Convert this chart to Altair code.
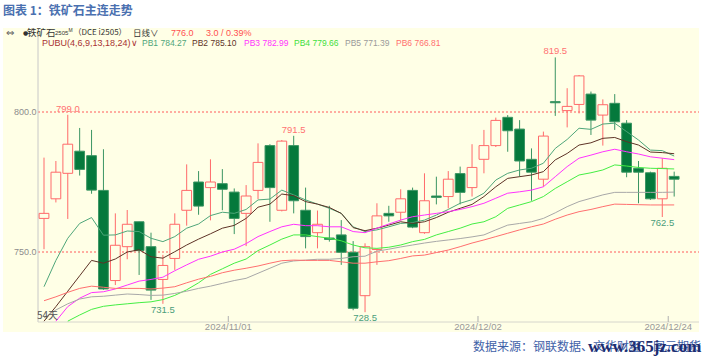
import altair as alt
import pandas as pd

# ---------------- data ----------------
opens = [762.0, 769.0, 778.1, 786.0, 784.4, 772.0, 739.8, 751.9, 760.8, 751.9,
         740.2, 747.7, 764.9, 775.0, 773.0, 774.4, 771.4, 763.8, 772.0, 788.0,
         764.9, 788.0, 764.9, 756.9, 755.0, 756.1, 749.9, 734.4, 750.9, 763.8,
         764.2, 772.0, 756.9, 770.0, 769.8, 778.0, 773.0, 783.1, 788.0, 798.1,
         793.9, 783.1, 776.0, 803.7, 800.5, 802.7, 806.4, 798.9, 803.1, 796.0,
         779.9, 778.3, 769.0, 777.0]
highs = [783.7, 782.5, 799.0, 794.3, 793.6, 786.7, 763.8, 765.0, 760.8, 756.9,
         749.0, 763.8, 781.3, 778.9, 783.1, 779.6, 772.7, 773.9, 788.8, 788.5,
         790.0, 791.5, 773.0, 764.8, 766.5, 761.4, 753.9, 753.1, 767.4, 766.5,
         772.4, 773.0, 778.1, 776.9, 778.9, 780.5, 788.5, 793.6, 798.0, 798.9,
         797.1, 787.0, 793.0, 819.5, 808.5, 813.2, 807.3, 804.5, 806.4, 797.1,
         782.5, 778.7, 783.5, 778.7]
lows = [751.0, 767.7, 761.8, 777.3, 770.8, 736.5, 738.2, 747.4, 741.8, 732.9,
        731.5, 743.6, 759.4, 763.3, 761.3, 764.9, 756.4, 752.1, 768.9, 760.8,
        764.5, 763.8, 751.3, 751.3, 753.7, 745.4, 729.2, 728.5, 745.4, 760.8,
        761.2, 758.5, 756.5, 767.0, 765.6, 767.0, 769.8, 778.1, 787.5, 785.8,
        776.9, 768.3, 773.3, 798.6, 794.5, 799.5, 791.8, 788.0, 793.6, 776.7,
        767.4, 768.6, 762.5, 769.8]
closes = [763.8, 778.5, 788.5, 779.5, 772.1, 736.8, 752.4, 759.9, 750.5, 736.4,
          745.2, 759.9, 772.0, 766.4, 775.0, 772.4, 762.0, 770.0, 782.0, 773.0,
          789.6, 768.3, 755.5, 759.9, 754.5, 749.9, 729.9, 751.9, 762.9, 762.9,
          769.0, 758.9, 768.3, 769.5, 776.0, 771.3, 780.2, 788.0, 797.0, 793.3,
          782.5, 778.5, 791.4, 803.3, 802.0, 812.9, 797.1, 802.6, 796.5, 778.5,
          778.5, 769.0, 779.9, 776.0]

pb1 = [737.6, 747.0, 754.9, 760.2, 762.3, 756.0, 756.1, 757.5, 757.3, 754.9,
       753.7, 755.5, 758.5, 760.0, 763.0, 764.2, 763.8, 765.2, 768.6, 768.9,
       772.1, 770.4, 768.6, 767.1, 765.6, 763.8, 759.0, 757.3, 757.9, 759.0,
       760.2, 760.5, 761.4, 763.2, 765.2, 767.4, 768.7, 771.0, 775.7, 778.1,
       779.3, 779.9, 781.7, 787.0, 790.2, 794.2, 793.8, 795.7, 796.0, 793.0,
       790.0, 786.4, 786.2, 784.27]
pb2 = [725.3, 730.5, 736.0, 741.5, 747.0, 746.0, 747.5, 750.0, 750.8, 748.3,
       747.8, 750.1, 752.5, 754.6, 756.5, 758.5, 759.5, 762.0, 766.0, 767.1,
       770.7, 770.1, 768.0, 767.1, 765.9, 763.8, 758.7, 757.6, 758.5, 759.6,
       760.8, 760.2, 760.8, 762.3, 764.2, 765.6, 767.0, 769.8, 773.3, 776.3,
       776.9, 777.5, 778.7, 782.9, 785.2, 788.2, 789.0, 790.6, 790.9, 789.4,
       788.2, 785.7, 785.5, 785.10]
pb3 = [None, 725.3, 730.5, 733.5, 735.5, 735.8, 736.8, 738.2, 739.6, 740.2,
       741.0, 743.3, 745.4, 747.4, 748.5, 750.0, 751.0, 753.0, 755.5, 757.3,
       759.0, 759.9, 759.4, 759.4, 759.0, 759.0, 757.3, 756.9, 758.5, 760.0,
       761.4, 762.6, 763.2, 763.8, 764.4, 765.2, 766.2, 767.4, 769.2, 771.0,
       771.5, 772.1, 773.3, 776.9, 780.5, 783.5, 784.6, 785.8, 786.7, 785.8,
       785.0, 784.0, 783.5, 782.99]
pb4 = [None, None, 725.3, 727.5, 729.5, 730.6, 731.1, 731.5, 731.9, 732.2,
       733.0, 734.5, 736.5, 739.0, 742.0, 744.0, 746.0, 747.5, 750.5, 752.5,
       754.6, 756.1, 756.1, 755.5, 754.9, 754.0, 752.5, 751.5, 751.3, 751.7,
       752.5, 753.7, 754.5, 756.1, 757.3, 758.5, 760.0, 760.8, 762.6, 765.6,
       766.8, 768.0, 769.8, 772.7, 775.1, 777.5, 778.3, 779.3, 781.1, 780.7,
       780.2, 779.9, 779.8, 779.66]
pb5 = [726.5, 729.3, 731.5, 733.2, 734.0, 734.2, 734.6, 735.0, 734.8, 734.5,
       734.6, 735.2, 736.0, 737.0, 737.8, 738.8, 739.8, 740.6, 742.4, 744.2,
       746.0, 746.8, 747.1, 747.4, 747.4, 747.7, 748.3, 748.5, 750.3, 751.0,
       751.8, 752.5, 753.2, 753.8, 754.3, 754.8, 755.4, 756.1, 757.9, 759.6,
       760.2, 760.8, 762.0, 764.0, 766.2, 768.0, 769.2, 770.4, 771.3, 771.3,
       771.3, 771.3, 771.3, 771.39]
pb6 = [732.6, 734.0, 735.6, 737.0, 737.8, 737.4, 737.0, 737.0, 737.0, 736.8,
       737.1, 737.6, 739.0, 740.3, 741.3, 742.6, 743.5, 744.2, 745.0, 746.0,
       746.9, 747.1, 747.0, 747.0, 747.0, 746.5, 746.0, 746.0, 746.5, 746.9,
       747.7, 748.6, 748.9, 749.8, 750.7, 751.9, 753.2, 754.3, 755.5, 756.7,
       757.9, 759.0, 760.0, 761.7, 763.2, 764.4, 765.2, 766.2, 767.1, 767.0,
       766.9, 766.8, 766.8, 766.81]

ma_names = ["PB1", "PB2", "PB3", "PB4", "PB5", "PB6"]
ma_colors = ["#4fa67a", "#5e3326", "#ff33ff", "#44ee44", "#a8a8a8", "#ff6f6f"]

date_idx = [16, 37, 53]
date_text = ["2024/11/01", "2024/12/02", "2024/12/24"]

high_idx = [2, 21, 43]
high_val = [799.0, 791.5, 819.5]
low_idx = [10, 27, 52]
low_val = [731.5, 728.5, 762.5]

ref_levels = [800.0, 750.0]

# ---------------- styles ----------------
BG = "#FFFFE6"
UP = "#ff6a6a"
DN_FILL = "#05793c"
DN_LINE = "#3b9563"
LAT = "Liberation Sans"
CJK = "Noto Sans CJK SC"

xs = alt.Scale(domain=[-3.4483, 55.088], nice=False, zero=False)
ys = alt.Scale(domain=[721.4286, 830.0], nice=False, zero=False)

n = len(opens)
cdf = pd.DataFrame({"i": list(range(n)), "o": opens, "h": highs, "l": lows, "c": closes})
cdf["up"] = cdf["c"] >= cdf["o"]
cdf["bt"] = cdf[["o", "c"]].max(axis=1)
cdf["bb"] = cdf[["o", "c"]].min(axis=1)
up_df = cdf[cdf["up"]]
dn_df = cdf[~cdf["up"]]

def X(f):
    return alt.X(f, type="quantitative", scale=xs, axis=None)

def Y(f):
    return alt.Y(f, type="quantitative", scale=ys, axis=None)

def txt(s, x, y, color, size=9, font=LAT, weight="normal", align="left"):
    return alt.Chart(pd.DataFrame({"t": [s]})).mark_text(
        align=align, baseline="middle", color=color, fontSize=size,
        font=font, fontWeight=weight
    ).encode(x=alt.value(x), y=alt.value(y), text="t:N")

layers = []

# reference dashed lines
ref_df = pd.DataFrame({"v": ref_levels, "lab": [f"{v:.1f}" for v in ref_levels]})
layers.append(alt.Chart(ref_df).mark_rule(color="#ff5a5a", strokeDash=[2, 2], strokeWidth=1)
              .encode(y=Y("v"), x=alt.value(35), x2=alt.value(696)))
layers.append(alt.Chart(ref_df).mark_text(align="right", baseline="middle", color="#8c8c8c",
                                          fontSize=9, font=LAT)
              .encode(y=Y("v"), x=alt.value(33.5), text="lab:N"))

# frame lines
layers.append(alt.Chart(pd.DataFrame({"a": [0]})).mark_rule(color="#c8c8c8", strokeWidth=1)
              .encode(x=alt.value(35), y=alt.value(9), y2=alt.value(294)))
layers.append(alt.Chart(pd.DataFrame({"a": [0]})).mark_rule(color="#d6d6cc", strokeWidth=1)
              .encode(x=alt.value(35), x2=alt.value(696), y=alt.value(294)))

# wicks
layers.append(alt.Chart(up_df).mark_rule(color=UP, strokeWidth=1)
              .encode(x=X("i"), y=Y("l"), y2="h:Q"))
layers.append(alt.Chart(dn_df).mark_rule(color=DN_LINE, strokeWidth=1)
              .encode(x=X("i"), y=Y("l"), y2="h:Q"))

# bodies
layers.append(alt.Chart(up_df).transform_calculate(x1="datum.i - 0.41", x2="datum.i + 0.41")
              .mark_rect(fill=BG, stroke=UP, strokeWidth=1)
              .encode(x=X("x1"), x2="x2:Q", y=Y("bb"), y2="bt:Q"))
layers.append(alt.Chart(dn_df).transform_calculate(x1="datum.i - 0.41", x2="datum.i + 0.41")
              .mark_rect(fill=DN_FILL, stroke=DN_LINE, strokeWidth=1)
              .encode(x=X("x1"), x2="x2:Q", y=Y("bb"), y2="bt:Q"))

# moving-average lines
rows = []
for name, arr in zip(ma_names, [pb1, pb2, pb3, pb4, pb5, pb6]):
    for i, v in enumerate(arr):
        if v is not None:
            rows.append({"i": i, "v": v, "name": name})
ma_df = pd.DataFrame(rows)
layers.append(alt.Chart(ma_df).mark_line(strokeWidth=1)
              .encode(x=X("i"), y=Y("v"),
                      color=alt.Color("name:N", scale=alt.Scale(domain=ma_names, range=ma_colors),
                                      legend=None),
                      detail="name:N", order="i:Q"))

# high / low annotations
hdf = pd.DataFrame({"i": high_idx, "v": high_val, "lab": [f"{v:.1f}" for v in high_val]})
ldf = pd.DataFrame({"i": low_idx, "v": low_val, "lab": [f"{v:.1f}" for v in low_val]})
layers.append(alt.Chart(hdf).mark_text(baseline="bottom", dy=-1, color="#ff7272", fontSize=9.5, font=LAT)
              .encode(x=X("i"), y=Y("v"), text="lab:N"))
layers.append(alt.Chart(ldf).mark_text(baseline="top", dy=1, color="#4a9e7a", fontSize=9.5, font=LAT)
              .encode(x=X("i"), y=Y("v"), text="lab:N"))

# date labels and ticks
ddf = pd.DataFrame({"i": date_idx, "d": date_text})
layers.append(alt.Chart(ddf).transform_calculate(tx="datum.i - 0.5")
              .mark_rule(color="#b0b0b0", strokeWidth=1)
              .encode(x=X("tx"), y=alt.value(288), y2=alt.value(294)))
layers.append(alt.Chart(ddf).transform_calculate(tx="datum.i - 0.5")
              .mark_text(baseline="middle", color="#999999", fontSize=9.5, font=LAT)
              .encode(x=X("tx"), y=alt.value(298.5), text="d:N"))

# header row 1
layers += [
    txt("⇔", 3, 4.5, "#555555", size=10, font="DejaVu Sans"),
    txt("●", 20, 4.5, "#333333", size=6, font="DejaVu Sans"),
    txt("铁矿石", 24, 4.5, "#333333", size=9.5, font=CJK),
    txt("2505", 52, 4.8, "#333333", size=6, font=LAT),
    txt("M", 65.5, 2, "#333333", size=5, font=LAT),
    txt("（DCE i2505）", 70.5, 4.5, "#333333", size=8, font=CJK),
    txt("日线∨", 130, 4.5, "#333333", size=8.5, font=CJK),
    txt("776.0", 168, 4.5, "#ff5050", size=9, font=LAT),
    txt("3.0 / 0.39%", 203, 4.5, "#ff5050", size=9, font=LAT),
]
# header row 2
layers += [
    txt("PUBU(4,6,9,13,18,24)∨", 39, 15.3, "#a83232", size=9, font=LAT),
    txt("PB1 784.27", 139, 15.3, ma_colors[0], size=8.5, font=LAT),
    txt("PB2 785.10", 189, 15.3, ma_colors[1], size=8.5, font=LAT),
    txt("PB3 782.99", 241, 15.3, ma_colors[2], size=8.5, font=LAT),
    txt("PB4 779.66", 291, 15.3, "#3ee03e", size=8.5, font=LAT),
    txt("PB5 771.39", 342, 15.3, "#9a9a9a", size=8.5, font=LAT),
    txt("PB6 766.81", 393, 15.3, ma_colors[5], size=8.5, font=LAT),
]
# misc labels
layers += [
    txt("54天", 34, 288, "#555555", size=10, font=CJK),
    txt("图表 1：铁矿石主连走势", 0, -17, "#4a70b0", size=12, font=CJK, weight="bold"),
    txt("数据来源：钢联数据、文华财经、国元期货", 470, 319, "#3f62a8", size=12, font=CJK),
    txt("www.365jz.com", 585, 318.5, "#1c2d70", size=17, font="Liberation Serif", weight="bold"),
]

chart = alt.layer(*layers).properties(
    width=696, height=304,
    padding={"left": 3, "top": 28, "right": 12, "bottom": 26},
    autosize=alt.AutoSizeParams(type="none"),
    background="white",
).configure_view(stroke=None, fill=BG)

chart.save("out.html", embed_options={"renderer": "svg", "actions": False})
